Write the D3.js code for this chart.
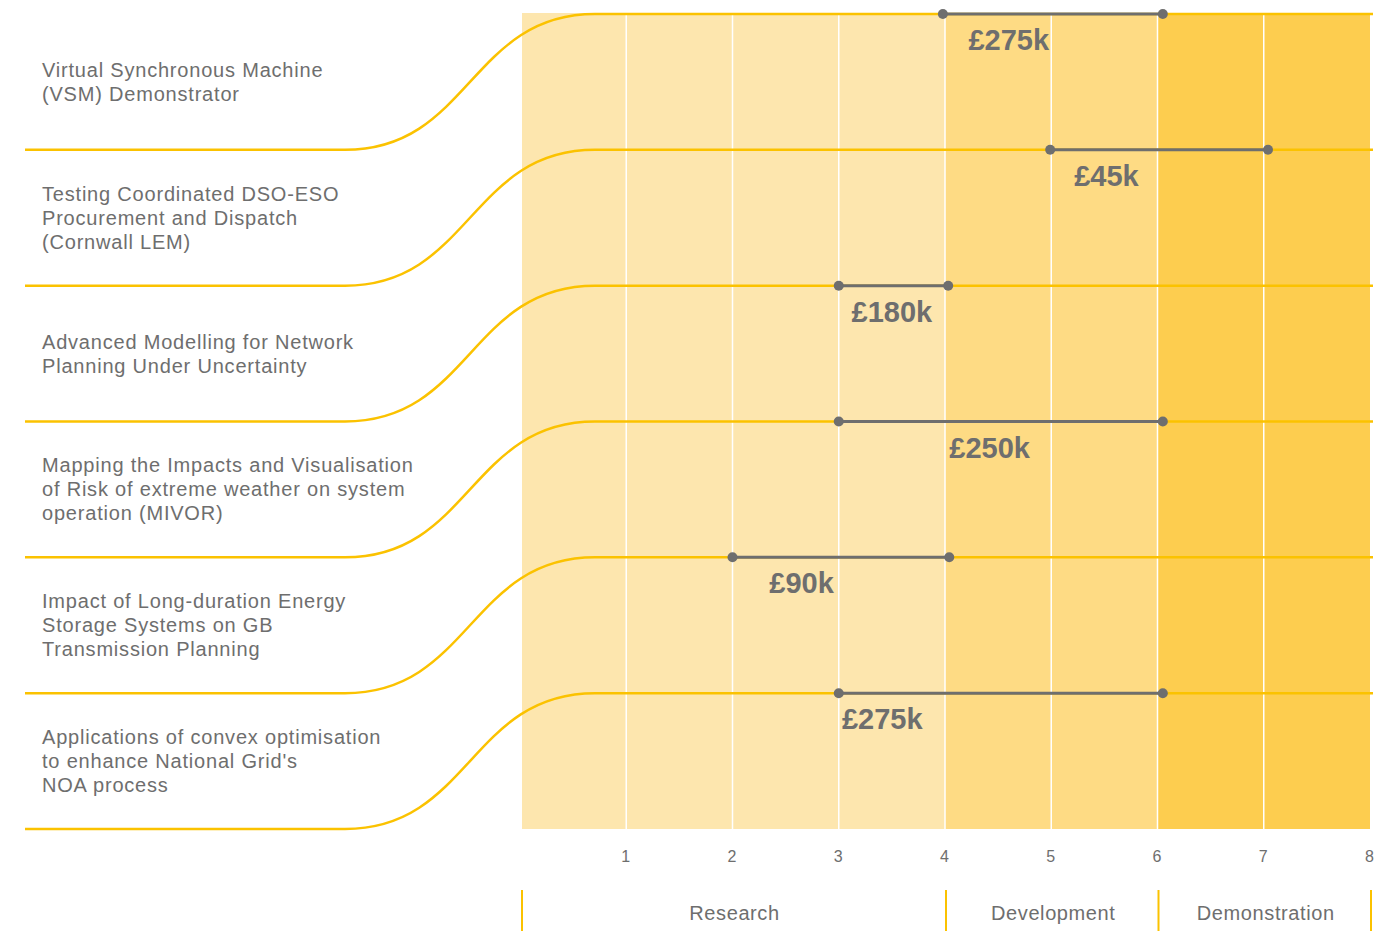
<!DOCTYPE html>
<html>
<head>
<meta charset="utf-8">
<script src="https://cdn.jsdelivr.net/npm/d3@7"></script>
<style>
  html, body { margin: 0; padding: 0; background: #fff; }
  svg { display: block; font-family: "Liberation Sans", Arial, Helvetica, sans-serif; }
</style>
</head>
<body>
<svg id="chart" width="1398" height="931"></svg>
<script>
// ---- data ----
const projects = [
  ["Virtual Synchronous Machine", "(VSM) Demonstrator"],
  ["Testing Coordinated DSO-ESO", "Procurement and Dispatch", "(Cornwall LEM)"],
  ["Advanced Modelling for Network", "Planning Under Uncertainty"],
  ["Mapping the Impacts and Visualisation", "of Risk of extreme weather on system", "operation (MIVOR)"],
  ["Impact of Long-duration Energy", "Storage Systems on GB", "Transmission Planning"],
  ["Applications of convex optimisation", "to enhance National Grid's", "NOA process"]
];
const trlStart = [3.98, 4.99, 3.0, 3.0, 2.0, 3.0];
const trlEnd   = [6.05, 7.04, 4.03, 6.05, 4.04, 6.05];
const costs    = ["£275k", "£45k", "£180k", "£250k", "£90k", "£275k"];
const costLabelAt = [4.6, 5.52, 3.5, 4.42, 2.65, 3.41];
const tickValues = [1, 2, 3, 4, 5, 6, 7, 8];
const phases = ["Research", "Development", "Demonstration"];
const phaseStart = [0, 4, 6];
const phaseEnd   = [4, 6, 8];

// ---- styles ----
const YELLOW = "#fbc200";
const GREY = "#6e6e6e";
const phaseFill = ["#fde6ae", "#fedb84", "#fdcd4f"];

const svg = d3.select("#chart");
const x = d3.scaleLinear().domain([0, 8]).range([520, 1370]);
const rowTop = d3.scaleLinear().domain([0, 6]).range([14, 829]);

// background phase panels
svg.append("g").selectAll("rect").data(phases).join("rect")
  .attr("x", (d, i) => i === 0 ? x(phaseStart[i]) + 2 : x(phaseStart[i]))
  .attr("y", 13)
  .attr("width", (d, i) => x(phaseEnd[i]) - x(phaseStart[i]) - (i === 0 ? 2 : 0))
  .attr("height", 829 - 13)
  .attr("fill", (d, i) => phaseFill[i]);

// white gridlines
svg.append("g").selectAll("line").data(tickValues.slice(0, 7)).join("line")
  .attr("x1", d => x(d)).attr("x2", d => x(d))
  .attr("y1", 13).attr("y2", 829)
  .attr("stroke", "#fff").attr("stroke-width", 1.5);

// connector lines (left underline + sigmoid + row line)
const rows = svg.append("g");
projects.forEach((p, i) => {
  const yt = rowTop(i);
  const yb = rowTop(i + 1);
  const path = d3.path();
  path.moveTo(25, yb);
  path.lineTo(345, yb);
  const mx = (345 + 595) / 2;
  path.bezierCurveTo(mx, yb, mx, yt, 595, yt);
  path.lineTo(1373, yt);
  rows.append("path")
    .attr("d", path.toString())
    .attr("fill", "none")
    .attr("stroke", YELLOW)
    .attr("stroke-width", 2.5);

  // project label, vertically centred in band
  const lh = 24;
  const cy = (yt + yb) / 2;
  const firstBase = cy - (p.length - 1) * lh / 2 + 7;
  const t = rows.append("text")
    .attr("fill", GREY)
    .attr("font-size", 20)
    .attr("letter-spacing", 0.8)
    .attr("font-family", "'Liberation Sans', Arial, sans-serif");
  p.forEach((line, j) => {
    t.append("tspan").attr("x", 42).attr("y", firstBase + j * lh).text(line);
  });
});

// dumbbells
const dumb = svg.append("g");
projects.forEach((p, i) => {
  const y = rowTop(i);
  dumb.append("line")
    .attr("x1", x(trlStart[i])).attr("x2", x(trlEnd[i]))
    .attr("y1", y).attr("y2", y)
    .attr("stroke", GREY).attr("stroke-width", 3);
  [trlStart[i], trlEnd[i]].forEach(v => {
    dumb.append("circle").attr("cx", x(v)).attr("cy", y).attr("r", 5).attr("fill", GREY);
  });
  dumb.append("text")
    .attr("x", x(costLabelAt[i])).attr("y", y + 36)
    .attr("text-anchor", "middle")
    .attr("font-weight", "bold")
    .attr("font-size", 29)
    .attr("fill", GREY)
    .text(costs[i]);
});

// x axis tick labels
const axis = d3.axisBottom(x).tickValues(tickValues).tickSize(0).tickPadding(0).tickFormat(d3.format("d"));
const ax = svg.append("g").attr("transform", "translate(0,851)").call(axis);
ax.select(".domain").remove();
ax.selectAll("text")
  .attr("fill", GREY)
  .attr("font-size", 16)
  .attr("font-family", "'Liberation Sans', Arial, sans-serif")
  .attr("dx", -1)
  .attr("dy", "0.71em");

// phase separators and labels
const sepVals = [0, 4, 6, 8];
svg.append("g").selectAll("line").data(sepVals).join("line")
  .attr("x1", d => d === 0 ? x(d) + 2 : x(d) + 1)
  .attr("x2", d => d === 0 ? x(d) + 2 : x(d) + 1)
  .attr("y1", 890).attr("y2", 931)
  .attr("stroke", YELLOW).attr("stroke-width", 2);

svg.append("g").selectAll("text").data(phases).join("text")
  .attr("x", (d, i) => (x(phaseStart[i]) + x(phaseEnd[i])) / 2 + 2)
  .attr("y", 920)
  .attr("text-anchor", "middle")
  .attr("fill", GREY)
  .attr("font-size", 20)
  .attr("letter-spacing", 0.6)
  .text(d => d);
</script>
</body>
</html>
